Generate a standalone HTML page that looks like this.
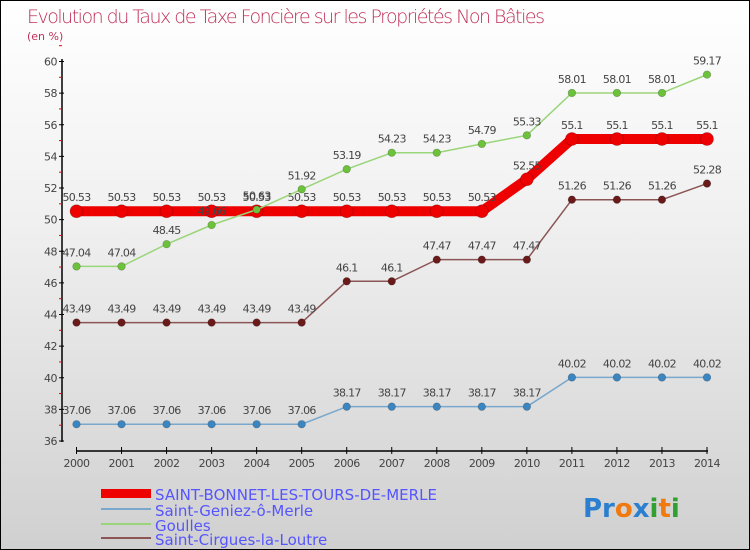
<!DOCTYPE html>
<html><head><meta charset="utf-8"><style>
body{margin:0}
#c{width:748px;height:548px;border:1px solid #000;background:linear-gradient(#fff,#f0f0f0 40%,#d0d0d0);position:relative;overflow:hidden;font-family:"DejaVu Sans","Liberation Sans",sans-serif}
svg{position:absolute;left:0;top:0}
</style></head><body>
<div id="c">
<svg id="s" width="748" height="548">
<text x="26" y="22" font-size="19" fill="#c0305a" style="font-family:'DejaVu Sans',sans-serif;font-weight:200" textLength="518">Evolution du Taux de Taxe Foncière sur les Propriétés Non Bâties</text>
<text x="26" y="39" font-size="11" fill="#c0305a">(en %)</text>
<g id="axes"></g><g id="series"></g>
<g>
<rect x="100" y="488" width="50" height="9" fill="#e00"/>
<text x="154" y="499" font-size="15" fill="#55f" textLength="282">SAINT-BONNET-LES-TOURS-DE-MERLE</text>
<rect x="100" y="507" width="50" height="2" fill="#79a8cc"/>
<text x="154" y="515" font-size="15" fill="#55f">Saint-Geniez-ô-Merle</text>
<rect x="100" y="522" width="50" height="2" fill="#9ad57a"/>
<text x="154" y="530" font-size="15" fill="#55f">Goulles</text>
<rect x="100" y="536" width="50" height="2" fill="#8b5555"/>
<text x="154" y="544" font-size="15" fill="#55f">Saint-Cirgues-la-Loutre</text>
</g>
<text x="582" y="516" font-size="26" font-weight="bold"><tspan fill="#2a7fd0">Pr</tspan><tspan fill="#f07a10">o</tspan><tspan fill="#2a7fd0">x</tspan><tspan fill="#30a030">i</tspan><tspan fill="#f07a10">t</tspan><tspan fill="#30a030">i</tspan></text>
</svg></div>
<script>
const years=[2000,2001,2002,2003,2004,2005,2006,2007,2008,2009,2010,2011,2012,2013,2014];
const yTicks=[36,38,40,42,44,46,48,50,52,54,56,58,60];
const bonnet=[50.53,50.53,50.53,50.53,50.53,50.53,50.53,50.53,50.53,50.53,52.55,55.1,55.1,55.1,55.1];
const geniez=[37.06,37.06,37.06,37.06,37.06,37.06,38.17,38.17,38.17,38.17,38.17,40.02,40.02,40.02,40.02];
const goulles=[47.04,47.04,48.45,49.66,50.63,51.92,53.19,54.23,54.23,54.79,55.33,58.01,58.01,58.01,59.17];
const cirgues=[43.49,43.49,43.49,43.49,43.49,43.49,46.1,46.1,47.47,47.47,47.47,51.26,51.26,51.26,52.28];
const NS='http://www.w3.org/2000/svg';
const X=i=>75.5+i*(630.5/14), Y=v=>60.5+(60-v)*(379.5/24);
function mk(t,a,p){const e=document.createElementNS(NS,t);for(const k in a)e.setAttribute(k,a[k]);p.appendChild(e);return e;}
const ax=document.getElementById('axes'), sg=document.getElementById('series');
let l=mk('line',{x1:61,y1:58,x2:61,y2:441,stroke:'#000','stroke-width':1.5},ax);

l=mk('line',{x1:75,y1:450,x2:707,y2:450,stroke:'#000','stroke-width':1.5},ax);

yTicks.forEach(v=>{mk('line',{x1:58,x2:63,y1:Y(v),y2:Y(v),stroke:'#000'},ax);
 mk('line',{x1:58,x2:61,y1:Y(v+1),y2:Y(v+1),stroke:'#e00'},ax);
 const t=mk('text',{x:56,y:Y(v)+4,'font-size':11,fill:'#444','text-anchor':'end','letter-spacing':'-0.5'},ax);t.textContent=v;
 });
years.forEach((yr,i)=>{mk('line',{x1:X(i),x2:X(i),y1:446,y2:453,stroke:'#000'},ax);
 const t=mk('text',{x:X(i),y:466,'font-size':11,fill:'#444','text-anchor':'middle','letter-spacing':'-0.5'},ax);t.textContent=yr;
 });
function series(vals,col,dot,w,r,name){const g=mk('g',{},sg);
 
 mk('polyline',{points:vals.map((v,i)=>X(i)+','+Y(v)).join(' '),fill:'none',stroke:col,'stroke-width':w,'stroke-linejoin':'round'},g);
 vals.forEach((v,i)=>{const c=mk('circle',{cx:X(i),cy:Y(v),r:r,fill:dot,stroke:'rgba(0,0,0,0.25)','stroke-width':0.7},g);
  
  const t=mk('text',{x:X(i),y:Y(v)-10,'font-size':11,fill:'#444','text-anchor':'middle','letter-spacing':'-0.7'},g);t.textContent=v;
  });}
series(bonnet,'#e00','#e00',10,6.5,'series-saint-bonnet');
series(geniez,'#79a8cc','#3b85c0',1.5,3.8,'series-saint-geniez');
series(goulles,'#9ad57a','#6cc23a',1.5,3.8,'series-goulles');
series(cirgues,'#8b5555','#6b1a1a',1.5,3.8,'series-saint-cirgues');
</script></body></html>
